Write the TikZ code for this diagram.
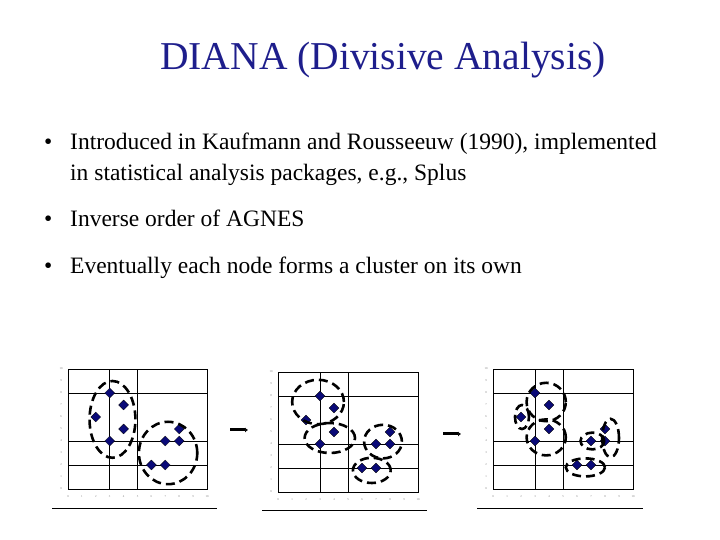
\documentclass[tikz,border=0pt]{standalone}
\usepackage{fontspec}
\setmainfont{Liberation Serif}
\usetikzlibrary{shapes.geometric,arrows.meta}
\definecolor{ttl}{RGB}{30,30,140}
\definecolor{navy}{RGB}{10,10,120}
\tikzset{
  pt/.style={diamond,fill=navy,draw=black,line width=0.3pt,inner sep=0pt,minimum size=10pt},
  clu/.style={draw=black,line width=2.6pt,dash pattern=on 9pt off 5pt},
  grd/.style={draw=black,line width=0.7pt},
  tick/.style={font=\fontsize{3}{3}\selectfont,text=gray},
  bul/.style={anchor=base west,font=\fontsize{23.5}{31}\selectfont,inner sep=0pt}
}
\newcommand{\plotframe}[1]{%
  \draw[grd] (0,0) rectangle (10,10);
  \draw[grd] (3,0)--(3,10) (5,0)--(5,10) (0,2)--(10,2) (0,4)--(10,4) (0,8)--(10,8);
  \foreach \i in {0,...,10}{\node[tick] (#1x\i) at (\i,-0.6) {\i}; \node[tick] (#1y\i) at (-0.5,\i) {\i};}
  \foreach \x/\y [count=\k] in {3/8,4/7,2/6,4/5,3/4,7/4,8/4,8/5,6/2,7/2}{\node[pt] (#1p\k) at (\x,\y) {};}
}
\begin{document}
\begin{tikzpicture}[x=1pt,y=1pt]
\useasboundingbox (0,0) rectangle (720,540);
\node[font=\fontsize{39.5}{44}\selectfont,text=ttl,anchor=base,inner sep=0pt] (title) at (383,470) {DIANA (Divisive Analysis)};
\node[bul] (b1) at (44,390) {•};
\node[bul] (t1) at (70,390) {Introduced in Kaufmann and Rousseeuw (1990), implemented};
\node[bul] (t1b) at (70,359) {in statistical analysis packages, e.g., Splus};
\node[bul] (b2) at (44,313) {•};
\node[bul] (t2) at (70,313) {Inverse order of AGNES};
\node[bul] (b3) at (44,266) {•};
\node[bul] (t3) at (70,266) {Eventually each node forms a cluster on its own};
% plot 1
\begin{scope}[shift={(68,51)},x=13.9pt,y=12pt]
\plotframe{a}
\draw[clu] (3.2,5.8) ellipse [x radius=1.65, y radius=3.2];
\draw[clu] (7.2,3.0) ellipse [x radius=2.1, y radius=2.6];
\end{scope}
\coordinate (u1) at (52,32); \coordinate (u2) at (217,32);
\draw[line width=0.8pt] (u1)--(u2);
% plot 2
\begin{scope}[shift={(278,48)},x=14pt,y=12pt]
\plotframe{b}
\draw[clu] (2.86,7.5) ellipse [x radius=1.85, y radius=1.85];
\draw[clu] (3.7,4.5) ellipse [x radius=1.8, y radius=1.25];
\draw[clu] (7.5,4.2) ellipse [x radius=1.35, y radius=1.4];
\draw[clu] (6.7,1.8) ellipse [x radius=1.35, y radius=1.05];
\end{scope}
\coordinate (v1) at (262,30); \coordinate (v2) at (427,30);
\draw[line width=0.8pt] (v1)--(v2);
% plot 3
\begin{scope}[shift={(493,51)},x=14pt,y=12pt]
\plotframe{c}
\draw[clu] (2.07,6.0) ellipse [x radius=0.5, y radius=1.0];
\draw[clu] (3.8,7.25) ellipse [x radius=1.4, y radius=1.6];
\draw[clu] (3.8,4.3) ellipse [x radius=1.4, y radius=1.5];
\draw[clu] (7.1,4.0) ellipse [x radius=0.85, y radius=0.7];
\draw[clu] (8.4,4.25) ellipse [x radius=0.6, y radius=1.6];
\draw[clu] (6.6,1.8) ellipse [x radius=1.4, y radius=0.75];
\end{scope}
\coordinate (w1) at (477,32); \coordinate (w2) at (643,32);
\draw[line width=0.8pt] (w1)--(w2);
% arrows
\coordinate (r1) at (230,110); \coordinate (r2) at (248,110);
\draw[line width=3pt,-{Latex[length=3pt,width=5pt]}] (r1)--(r2);
\coordinate (s1) at (443,106); \coordinate (s2) at (461,106);
\draw[line width=3pt,-{Latex[length=3pt,width=5pt]}] (s1)--(s2);
\end{tikzpicture}
\end{document}
